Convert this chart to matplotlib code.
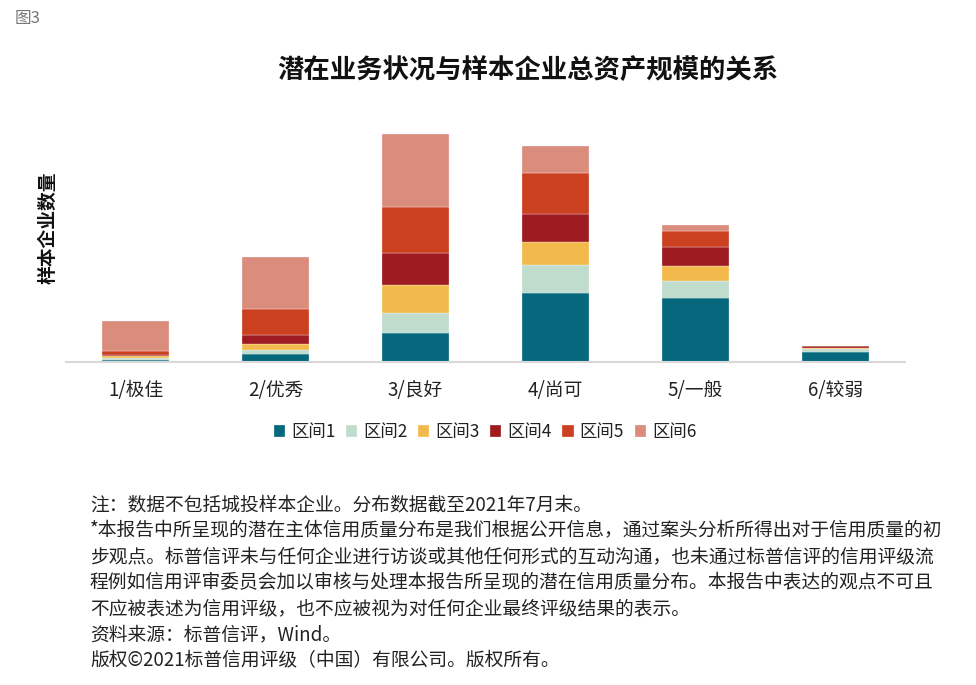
import numpy as np
import matplotlib
matplotlib.use("Agg")
import matplotlib.pyplot as plt

plt.rcParams['font.family'] = ['Noto Sans CJK SC', 'DejaVu Sans']

# 类别与各区间数值
categories = ['1/极佳', '2/优秀', '3/良好', '4/尚可', '5/一般', '6/较弱']
series_names = ['区间1', '区间2', '区间3', '区间4', '区间5', '区间6']
zone1 = [2.3, 8.3, 28.7, 69.3, 63.7, 10.3]
zone2 = [1.7, 3.7, 20.3, 27.7, 17.3, 2.3]
zone3 = [1.7, 6.0, 28.0, 22.7, 15.0, 1.3]
zone4 = [1.7, 8.7, 32.0, 28.3, 19.3, 1.8]
zone5 = [3.3, 26.0, 46.3, 41.3, 16.0, 0.6]
zone6 = [30.0, 52.3, 72.3, 26.3, 5.7, 0.2]

colors = ['#05687C', '#C0DCCD', '#F2BA4C', '#9E1B21', '#CC4022', '#DA8C7D']

fig = plt.figure(figsize=(9.76, 6.85), dpi=100)
ax = fig.add_axes([66 / 976, (685 - 362) / 685, 839 / 976, 250 / 685])

x = np.arange(len(categories))
bottom = np.zeros(len(categories))
for name, vals, c in zip(series_names, [zone1, zone2, zone3, zone4, zone5, zone6], colors):
    ax.bar(x, vals, width=0.48, bottom=bottom, color=c, label=name,
           edgecolor='white', linewidth=0.2)
    bottom += np.array(vals)

ax.set_xlim(-0.5, 5.5)
ax.set_ylim(0, 250)
ax.set_yticks([])
ax.set_xticks(x)
ax.set_xticklabels(categories, fontsize=13.5, color='#222222')
ax.tick_params(axis='x', length=0, pad=13)
for s in ['top', 'right', 'left']:
    ax.spines[s].set_visible(False)
ax.spines['bottom'].set_color('#D9D9D9')
ax.spines['bottom'].set_linewidth(1.5)

fig.text(48 / 976, 1 - 228 / 685, '样本企业数量', rotation=90, ha='center', va='center',
         fontsize=13.5, fontweight='bold', color='#111111')

fig.text(528 / 976, 1 - 70 / 685, '潜在业务状况与样本企业总资产规模的关系', ha='center', va='center',
         fontsize=19, fontweight='bold', color='#111111')
fig.text(15 / 976, 1 - 19 / 685, '图3', ha='left', va='center', fontsize=12, color='#777777')

leg = fig.legend(loc='center', bbox_to_anchor=(485 / 976, 1 - 432 / 685), ncol=6, frameon=False,
                 fontsize=12.5, handlelength=0.65, handleheight=0.65, handletextpad=0.35,
                 columnspacing=0.6, labelcolor='#222222')

notes = [
    '注：数据不包括城投样本企业。分布数据截至2021年7月末。',
    '*本报告中所呈现的潜在主体信用质量分布是我们根据公开信息，通过案头分析所得出对于信用质量的初',
    '步观点。标普信评未与任何企业进行访谈或其他任何形式的互动沟通，也未通过标普信评的信用评级流',
    '程例如信用评审委员会加以审核与处理本报告所呈现的潜在信用质量分布。本报告中表达的观点不可且',
    '不应被表述为信用评级，也不应被视为对任何企业最终评级结果的表示。',
    '资料来源：标普信评，Wind。',
    '版权©2021标普信用评级（中国）有限公司。版权所有。',
]
for i, line in enumerate(notes):
    fig.text(90 / 976, 1 - (505 + i * 26) / 685, line, ha='left', va='center',
             fontsize=13.5, color='#222222')

fig.savefig('out.png', dpi=100)
